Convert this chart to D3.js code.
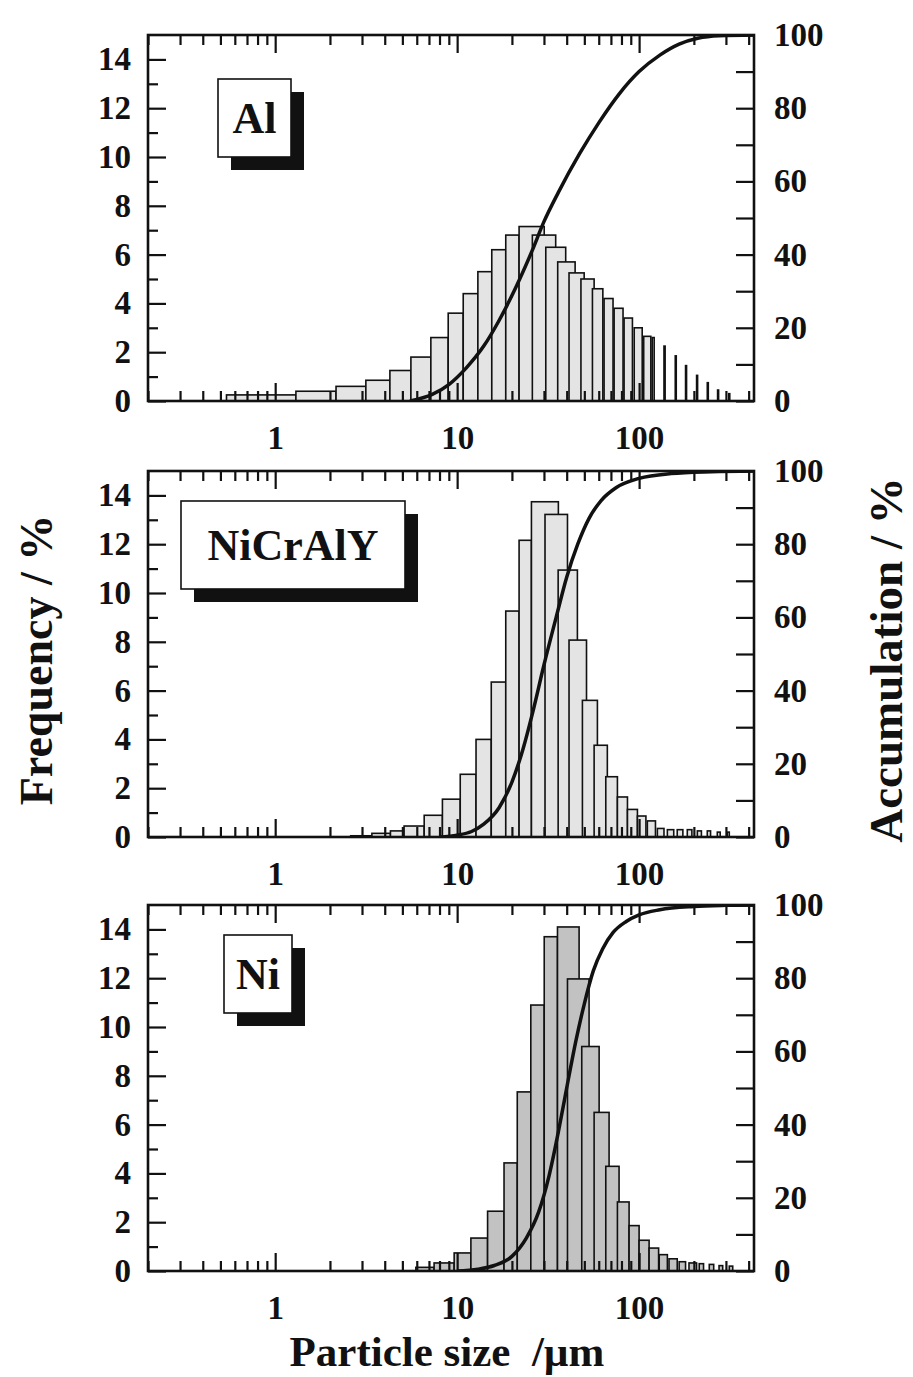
<!DOCTYPE html>
<html>
<head>
<meta charset="UTF-8">
<script src="https://d3js.org/d3.v7.min.js"></script>
<style>
  body { margin: 0; background: #fff; }
  svg text { font-family: "Liberation Serif", "Times New Roman", serif; font-weight: bold; fill: #111; }
</style>
</head>
<body>
<svg id="chart" width="913" height="1377"></svg>
<script>
// ---- data (particle size in µm, frequency %, accumulation %) ----
const alLo   = [0.54, 1.30, 2.16, 3.15, 4.27, 5.57, 7.17, 8.93, 10.8, 13.0, 15.5, 18.5, 21.9, 25.9, 30.7, 35.7, 41.2, 47.9, 55.4, 64.2, 72.9, 82.7, 94, 106, 118, 137, 158, 180, 207, 237, 270, 311];
const alHi   = [1.30, 2.16, 3.15, 4.27, 5.57, 7.17, 8.93, 10.8, 13.0, 15.5, 18.5, 21.9, 30.1, 34.8, 39.5, 44.5, 49.9, 56.6, 63.2, 71.9, 81.6, 91.9, 104, 116, 121, 139, 160, 182, 209, 239, 272, 313];
const alFreq = [0.25, 0.4, 0.6, 0.85, 1.25, 1.8, 2.6, 3.6, 4.4, 5.3, 6.2, 6.8, 7.15, 6.8, 6.3, 5.7, 5.25, 5.0, 4.6, 4.2, 3.8, 3.4, 3.0, 2.65, 2.6, 2.25, 1.85, 1.45, 1.05, 0.75, 0.45, 0.3];
const alCumSize = [5.5, 7.3, 9, 11.2, 14, 17, 21, 25.8, 30, 36, 47, 60, 78, 100, 130, 166, 210, 275, 428];
const alCumPct  = [0, 1.8, 4.5, 9, 15, 22, 31, 41, 49, 57, 67.5, 76, 84, 90, 94.5, 97.5, 99.1, 99.8, 100];

const ncLo   = [2.6, 3.4, 4.3, 5.11, 6.59, 8.30, 10.4, 12.7, 15.4, 18.5, 21.9, 25.6, 30.4, 35.9, 41.2, 48.8, 56.6, 65.6, 76, 86.3, 97.9, 111, 126, 143, 162, 184, 209, 237, 269, 305];
const ncHi   = [3.4, 4.3, 5.11, 6.59, 8.30, 10.4, 12.7, 15.4, 18.5, 21.9, 25.6, 36.0, 40.4, 45.8, 51.4, 59.0, 66.9, 76, 86.3, 97.9, 109, 123, 137, 155, 174, 195, 220, 247, 279, 313];
const ncFreq = [0.05, 0.15, 0.25, 0.45, 0.89, 1.55, 2.57, 4.0, 6.35, 9.26, 12.16, 13.74, 13.22, 10.94, 8.07, 5.6, 3.76, 2.47, 1.64, 1.13, 0.86, 0.66, 0.35, 0.3, 0.3, 0.3, 0.25, 0.25, 0.2, 0.2];
const ncCumSize = [8, 10, 12, 14, 17, 20, 23, 26, 30, 35, 40, 46, 53, 62, 75, 100, 150, 250, 428];
const ncCumPct  = [0, 0.5, 1.5, 3.5, 8, 15, 24, 34, 47, 60, 71, 80, 87, 92, 95.5, 98, 99.3, 99.8, 100];

const niLo   = [5.93, 7.47, 9.63, 11.9, 14.7, 18.1, 21.4, 25.4, 30.1, 35.6, 40.4, 48.4, 56.6, 65.6, 76, 88.1, 100, 113.5, 129, 146, 166, 188, 214, 243, 275, 313];
const niHi   = [7.47, 9.63, 11.9, 14.7, 18.1, 21.4, 25.4, 30.1, 35.6, 46.8, 53.1, 60.3, 68.4, 77.6, 88.1, 100, 113.5, 128, 143, 162, 180, 207, 226, 257, 288, 327];
const niFreq = [0.15, 0.33, 0.74, 1.35, 2.45, 4.43, 7.34, 10.9, 13.7, 14.1, 11.97, 9.2, 6.5, 4.29, 2.83, 1.86, 1.26, 0.94, 0.67, 0.5, 0.38, 0.33, 0.3, 0.27, 0.22, 0.2];
const niCumSize = [10, 13, 16, 20, 24, 28, 32, 36, 40, 45, 50, 56, 63, 72, 85, 100, 130, 200, 300, 428];
const niCumPct  = [0, 0.5, 1.5, 4, 9, 16, 26, 38, 50, 63, 73, 82, 88, 92.5, 95.5, 97.3, 98.7, 99.6, 99.9, 100];

const sampleNames = ["Al", "NiCrAlY", "Ni"];
const xMajor = [1, 10, 100];
const freqTicks = [0, 2, 4, 6, 8, 10, 12, 14];
const freqMinor = [1, 3, 5, 7, 9, 11, 13];
const accTicks = [0, 10, 20, 30, 40, 50, 60, 70, 80, 90, 100];

// ---- layout ----
const left = 148, right = 754, plotH = 366;
const panels = [
  { name: sampleNames[0], lo: alLo, hi: alHi, f: alFreq, cs: alCumSize, cp: alCumPct, fill: "#e4e4e4", top: 35,  box: [70, 44, 73, 78] },
  { name: sampleNames[1], lo: ncLo, hi: ncHi, f: ncFreq, cs: ncCumSize, cp: ncCumPct, fill: "#e4e4e4", top: 471, box: [33, 30, 224, 88] },
  { name: sampleNames[2], lo: niLo, hi: niHi, f: niFreq, cs: niCumSize, cp: niCumPct, fill: "#c2c2c2", top: 905, box: [76, 30, 68, 78] }
];

const svg = d3.select("#chart");
const x = d3.scaleLog().domain([0.2, 428]).range([left, right]);
const minorX = x.ticks().filter(v => !xMajor.includes(v));

panels.forEach((p, i) => {
  const bottom = p.top + plotH;
  const yF = d3.scaleLinear().domain([0, 15]).range([bottom, p.top]);
  const yA = d3.scaleLinear().domain([0, 100]).range([bottom, p.top]);
  const g = svg.append("g");

  g.append("clipPath").attr("id", "clip" + i)
    .append("rect").attr("x", left).attr("y", p.top).attr("width", right - left).attr("height", plotH);

  const bars = p.f.map((v, k) => ({ lo: p.lo[k], hi: p.hi[k], v }));
  g.append("g").attr("clip-path", `url(#clip${i})`)
    .selectAll("rect").data(bars).join("rect")
    .attr("x", d => x(d.lo))
    .attr("width", d => Math.max(x(d.hi) - x(d.lo), 1))
    .attr("y", d => yF(d.v))
    .attr("height", d => yF(0) - yF(d.v))
    .attr("fill", p.fill)
    .attr("stroke", "#111")
    .attr("stroke-width", 1.6);

  // ticks (pointing inward)
  const noLab = () => "";
  const axes = [
    [d3.axisBottom(x).tickValues(xMajor).tickSize(-18).tickPadding(25).tickFormat(d3.format("d")), `translate(0,${bottom})`],
    [d3.axisBottom(x).tickValues(minorX).tickSize(-10).tickFormat(noLab), `translate(0,${bottom})`],
    [d3.axisTop(x).tickValues(xMajor).tickSize(-18).tickFormat(noLab), `translate(0,${p.top})`],
    [d3.axisTop(x).tickValues(minorX).tickSize(-10).tickFormat(noLab), `translate(0,${p.top})`],
    [d3.axisLeft(yF).tickValues(freqTicks).tickSize(-18).tickPadding(17), `translate(${left},0)`],
    [d3.axisLeft(yF).tickValues(freqMinor).tickSize(-10).tickFormat(noLab), `translate(${left},0)`],
    [d3.axisRight(yA).tickValues(accTicks).tickSize(-18).tickPadding(20).tickFormat(d => d % 20 === 0 ? d : ""), `translate(${right},0)`]
  ];
  axes.forEach(([ax, tr]) => {
    const a = g.append("g").attr("transform", tr).call(ax);
    a.select(".domain").remove();
    a.selectAll("line").attr("stroke", "#111").attr("stroke-width", 2.2);
    a.selectAll("text").style("font-size", "33px");
  });

  // accumulation curve
  const pts = p.cs.map((s, k) => [s, p.cp[k]]);
  g.append("path").datum(pts)
    .attr("clip-path", `url(#clip${i})`)
    .attr("fill", "none").attr("stroke", "#111").attr("stroke-width", 3.5)
    .attr("d", d3.line().x(d => x(d[0])).y(d => yA(d[1])).curve(d3.curveMonotoneX));

  g.append("rect").attr("x", left).attr("y", p.top).attr("width", right - left).attr("height", plotH)
    .attr("fill", "none").attr("stroke", "#111").attr("stroke-width", 2.6);

  // sample label with drop shadow
  const [bx, by, bw, bh] = p.box;
  g.append("rect").attr("x", left + bx + 13).attr("y", p.top + by + 13).attr("width", bw).attr("height", bh).attr("fill", "#111");
  g.append("rect").attr("x", left + bx).attr("y", p.top + by).attr("width", bw).attr("height", bh)
    .attr("fill", "#fff").attr("stroke", "#111").attr("stroke-width", 1.6);
  g.append("text").attr("x", left + bx + bw / 2).attr("y", p.top + by + bh / 2)
    .attr("text-anchor", "middle").attr("dominant-baseline", "central")
    .style("font-size", "44px").text(p.name);
});

svg.append("text").attr("transform", "translate(36,660) rotate(-90)")
  .attr("text-anchor", "middle").attr("dominant-baseline", "central")
  .style("font-size", "46px").text("Frequency / %");
svg.append("text").attr("transform", "translate(886,660) rotate(-90)")
  .attr("text-anchor", "middle").attr("dominant-baseline", "central")
  .style("font-size", "47px").text("Accumulation / %");
svg.append("text").attr("x", 447).attr("y", 1366)
  .attr("text-anchor", "middle")
  .style("font-size", "43px").attr("xml:space", "preserve").text("Particle size  /µm");
</script>
</body>
</html>
